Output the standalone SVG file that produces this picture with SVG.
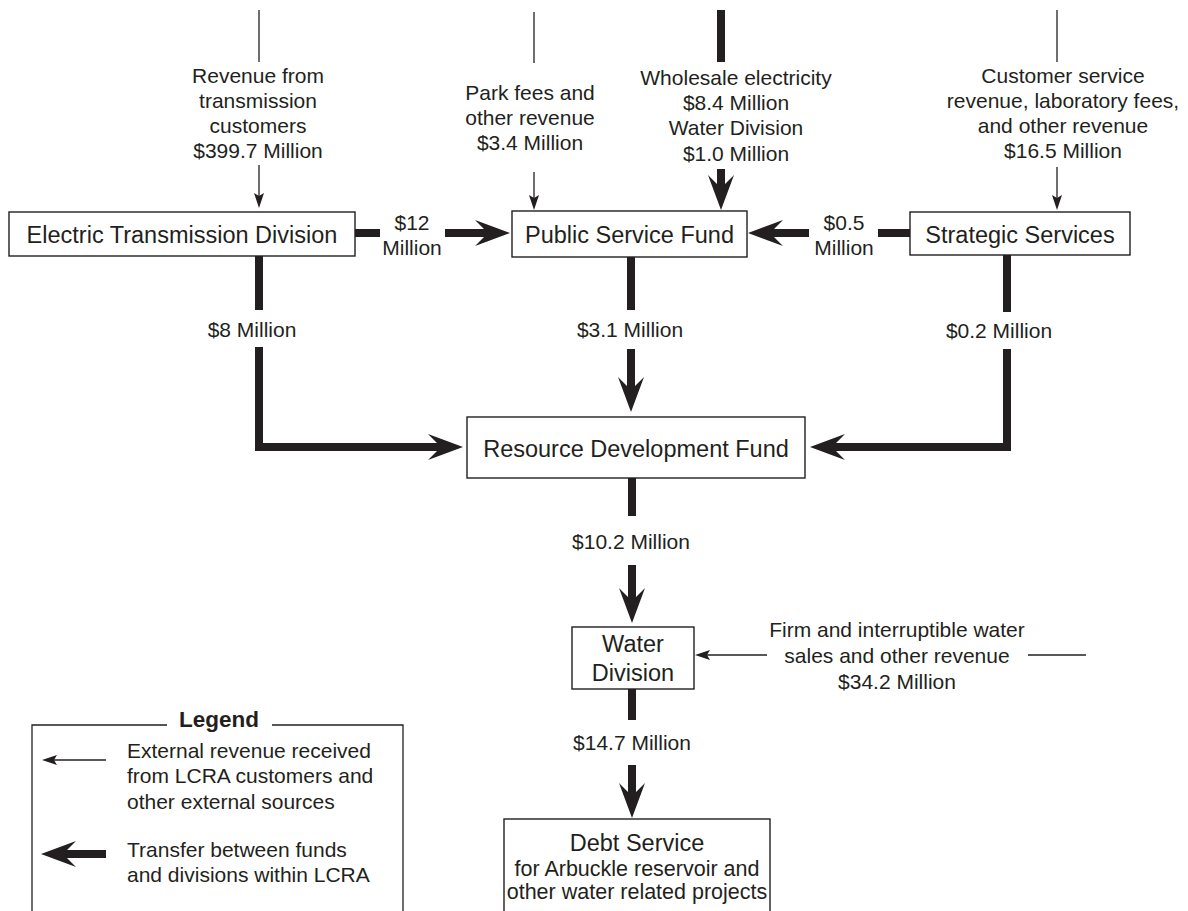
<svg xmlns="http://www.w3.org/2000/svg" width="1188" height="911" viewBox="0 0 1188 911">
<style>
text{font-family:"Liberation Sans",Arial,Helvetica,sans-serif;fill:#231f20}
.n{font-size:23.5px;text-anchor:middle}
.l{font-size:21px;text-anchor:middle}
.lg{font-size:21px}
.box{fill:#fff;stroke:#231f20;stroke-width:1.4}
.thin{fill:none;stroke:#231f20;stroke-width:1.3}
.thick{fill:none;stroke:#231f20;stroke-width:8;stroke-linejoin:miter}
.ta{marker-end:url(#aThin)}
.ka{marker-end:url(#aThick)}
</style>
<defs>
<marker id="aThin" markerUnits="userSpaceOnUse" orient="auto" refX="0" refY="0" markerWidth="20" markerHeight="20" overflow="visible">
<path d="M6,0 L-9,-5 L-6,0 L-9,5 Z" fill="#231f20"/>
</marker>
<marker id="aThick" markerUnits="userSpaceOnUse" orient="auto" refX="0" refY="0" markerWidth="40" markerHeight="40" overflow="visible">
<path d="M20,0 L-15,-13 L-6,-4 L-6,4 L-15,13 Z" fill="#231f20"/>
</marker>
</defs>
<rect width="1188" height="911" fill="#fff"/>

<g id="connectors">
<!-- external inputs -->
<line class="thin" x1="259" y1="10" x2="259" y2="62"/>
<line class="thin ta" x1="259" y1="165" x2="259" y2="202"/>
<line class="thin" x1="534" y1="12" x2="534" y2="63"/>
<line class="thin ta" x1="534" y1="172" x2="534" y2="204"/>
<line class="thick" x1="721" y1="10" x2="721" y2="62"/>
<line class="thick ka" x1="721" y1="169" x2="721" y2="190"/>
<line class="thin" x1="1057" y1="10" x2="1057" y2="62"/>
<line class="thin ta" x1="1057" y1="167" x2="1057" y2="204"/>
<!-- $12 -->
<line class="thick" x1="355" y1="233" x2="380" y2="233"/>
<line class="thick ka" x1="445" y1="233" x2="490" y2="233"/>
<!-- $0.5 -->
<line class="thick" x1="910" y1="233" x2="878" y2="233"/>
<line class="thick ka" x1="809" y1="233" x2="768" y2="233"/>
<!-- $8 -->
<line class="thick" x1="259" y1="256" x2="259" y2="310"/>
<path class="thick ka" d="M259,347 V447 H443"/>
<!-- $3.1 -->
<line class="thick" x1="631" y1="257" x2="631" y2="310"/>
<line class="thick ka" x1="631" y1="349" x2="631" y2="392"/>
<!-- $0.2 -->
<line class="thick" x1="1007" y1="255" x2="1007" y2="312"/>
<path class="thick ka" d="M1007,349 V447 H830"/>
<!-- $10.2 -->
<line class="thick" x1="632" y1="478" x2="632" y2="516"/>
<line class="thick ka" x1="632" y1="565" x2="632" y2="603"/>
<!-- water sales -->
<line class="thin ta" x1="767" y1="655" x2="701" y2="655"/>
<line class="thin" x1="1028" y1="655" x2="1086" y2="655"/>
<!-- $14.7 -->
<line class="thick" x1="632" y1="689" x2="632" y2="720"/>
<line class="thick ka" x1="632" y1="765" x2="632" y2="798"/>
</g>

<g id="labels">
<text class="l" x="258" y="83">Revenue from</text>
<text class="l" x="258" y="108">transmission</text>
<text class="l" x="258" y="133">customers</text>
<text class="l" x="258" y="158">$399.7 Million</text>
<text class="l" x="530" y="100">Park fees and</text>
<text class="l" x="530" y="125">other revenue</text>
<text class="l" x="530" y="150">$3.4 Million</text>
<text class="l" x="736" y="85">Wholesale electricity</text>
<text class="l" x="736" y="110">$8.4 Million</text>
<text class="l" x="736" y="135">Water Division</text>
<text class="l" x="736" y="161">$1.0 Million</text>
<text class="l" x="1063" y="83">Customer service</text>
<text class="l" x="1063" y="108">revenue, laboratory fees,</text>
<text class="l" x="1063" y="133">and other revenue</text>
<text class="l" x="1063" y="158">$16.5 Million</text>
<text class="l" x="412" y="230">$12</text>
<text class="l" x="412" y="255">Million</text>
<text class="l" x="844" y="230">$0.5</text>
<text class="l" x="844" y="255">Million</text>
<text class="l" x="252" y="337">$8 Million</text>
<text class="l" x="630" y="337">$3.1 Million</text>
<text class="l" x="999" y="338">$0.2 Million</text>
<text class="l" x="631" y="549">$10.2 Million</text>
<text class="l" x="897" y="637">Firm and interruptible water</text>
<text class="l" x="897" y="663">sales and other revenue</text>
<text class="l" x="897" y="689">$34.2 Million</text>
<text class="l" x="632" y="750">$14.7 Million</text>
</g>

<g id="etd">
<rect class="box" x="9" y="212" width="346" height="44"/>
<text class="n" x="182" y="243">Electric Transmission Division</text>
</g>
<g id="psf">
<rect class="box" x="512" y="211" width="235" height="46"/>
<text class="n" x="629.5" y="243">Public Service Fund</text>
</g>
<g id="strategic">
<rect class="box" x="910" y="212" width="220" height="43"/>
<text class="n" x="1020" y="243">Strategic Services</text>
</g>
<g id="rdf">
<rect class="box" x="467" y="417" width="338" height="61"/>
<text class="n" x="636" y="457">Resource Development Fund</text>
</g>
<g id="water">
<rect class="box" x="572" y="627" width="122" height="62"/>
<text class="n" x="633" y="652">Water</text>
<text class="n" x="633" y="681">Division</text>
</g>
<g id="debt">
<rect class="box" x="504" y="819" width="266" height="110"/>
<text class="n" x="637" y="851">Debt Service</text>
<text class="l" x="637" y="876" style="font-size:21.5px">for Arbuckle reservoir and</text>
<text class="l" x="637" y="899" style="font-size:21.5px">other water related projects</text>
</g>
<g id="legend">
<path class="thin" d="M167,725 H32 V920 M272,725 H403 V920"/>
<text x="219" y="727" style="font-size:22.5px;font-weight:bold;text-anchor:middle">Legend</text>
<line class="thin ta" x1="106" y1="760" x2="48" y2="760"/>
<text class="lg" x="127" y="758">External revenue received</text>
<text class="lg" x="127" y="783">from LCRA customers and</text>
<text class="lg" x="127" y="809">other external sources</text>
<line class="thick ka" x1="106" y1="854" x2="61" y2="854"/>
<text class="lg" x="127" y="857">Transfer between funds</text>
<text class="lg" x="127" y="882">and divisions within LCRA</text>
</g>
</svg>
